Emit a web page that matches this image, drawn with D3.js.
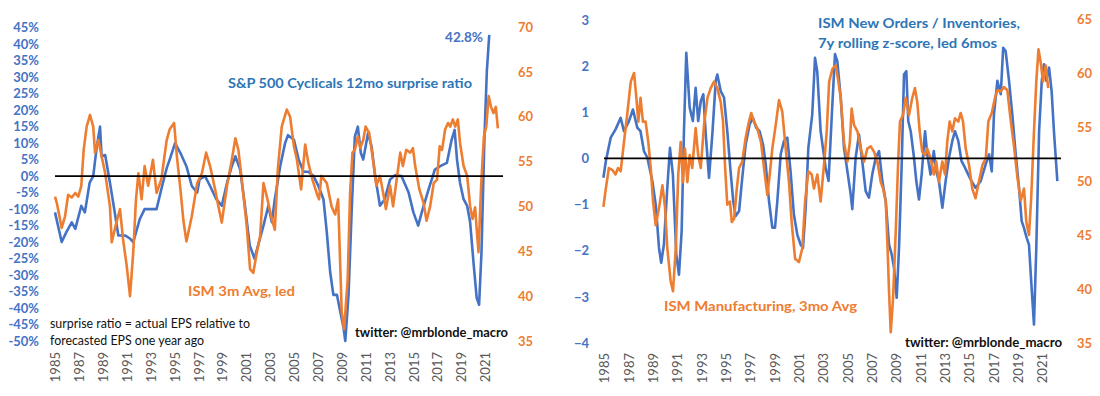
<!DOCTYPE html>
<html>
<head>
<meta charset="utf-8">
<script src="https://d3js.org/d3.v7.min.js"></script>
<style>
  html, body { margin: 0; padding: 0; background: #fff; }
  svg { display: block; font-family: Lato, "Open Sans", sans-serif; }
</style>
</head>
<body>
<svg id="chart" width="1100" height="396"></svg>
<script>
// ---------------- DATA ----------------
const yearTicks = d3.range(1985, 2022, 2);
const surpriseTicks = d3.range(-50, 46, 5);
const ismTicksLeft = d3.range(35, 71, 5);
const zTicks = d3.range(-4, 4, 1);
const ismTicksRight = d3.range(35, 66, 5);

// S&P 500 Cyclicals 12mo surprise ratio (%)
const spxSurprise = [[1985.0,-11],[1985.56,-20],[1985.95,-17],[1986.4,-14],[1986.7,-16],[1987.2,-9],[1987.5,-11],[1987.9,-2],[1988.2,0],[1988.5,9],[1988.77,15],[1988.9,6],[1989.2,6.4],[1989.6,-2],[1990.0,-11],[1990.3,-18],[1990.86,-18],[1991.3,-19],[1991.55,-20],[1992.1,-13],[1992.5,-10],[1992.9,-10],[1993.5,-10],[1993.9,-4],[1994.35,2.4],[1994.6,5],[1995.05,10],[1995.5,7],[1996.0,3],[1996.45,-3],[1996.9,-5],[1997.1,-1],[1997.56,0],[1997.98,-3],[1998.5,-7],[1998.96,-9],[1999.4,-2],[1999.8,3],[2000.1,6],[2000.5,2],[2000.9,-9],[2001.3,-21],[2001.7,-25],[2002.0,-21],[2002.45,-15],[2002.86,-9],[2003.15,-14],[2003.4,-7],[2003.85,3],[2004.26,10],[2004.5,12.4],[2005.0,11],[2005.4,5],[2005.8,1.3],[2006.2,1.3],[2006.64,0],[2007.05,-3],[2007.47,-7],[2007.75,-17],[2008.03,-29],[2008.3,-36],[2008.6,-36],[2008.87,-41],[2009.15,-46],[2009.3,-50],[2009.57,-36],[2009.85,-9],[2010.1,12],[2010.35,15],[2010.6,7],[2010.8,5],[2011.2,13],[2011.5,9],[2011.8,0],[2012.2,-9],[2012.6,-7],[2013.05,-1],[2013.47,0.3],[2014.0,0],[2014.6,-5],[2015.0,-11],[2015.4,-15],[2015.7,-11],[2016.27,-4],[2016.8,2],[2017.25,3],[2017.8,4],[2018.2,11],[2018.45,14],[2018.65,5],[2018.9,-2],[2019.2,-7],[2019.5,-9],[2019.75,-14],[2020.05,-27],[2020.3,-37],[2020.5,-39],[2020.7,-23],[2020.95,12],[2021.15,32],[2021.35,42.8]];

// ISM 3m Avg, led (left panel, right axis)
const ismLed = [[1985.0,51.1],[1985.15,50.4],[1985.56,47.6],[1985.84,48.9],[1986.1,51.3],[1986.4,51],[1986.7,51.5],[1986.95,51.1],[1987.2,52.3],[1987.4,56.3],[1987.65,58.9],[1987.93,60.2],[1988.2,58.9],[1988.35,56],[1988.63,57.4],[1988.9,55.6],[1989.2,53.7],[1989.6,50],[1989.75,46],[1990.1,48],[1990.44,49.7],[1990.7,46.3],[1991.0,43.4],[1991.28,40],[1991.55,44.9],[1991.78,50.8],[1991.98,53.7],[1992.25,50.8],[1992.5,54.5],[1992.8,52.3],[1993.2,55.2],[1993.5,51.5],[1993.9,53],[1994.35,57.4],[1994.6,58.6],[1994.97,59.3],[1995.2,55.6],[1995.5,51.9],[1995.75,48.4],[1996.0,46.1],[1996.45,48.9],[1996.9,52.6],[1997.3,53.7],[1997.65,56],[1997.98,54.5],[1998.4,51.9],[1998.68,50],[1998.96,48.2],[1999.4,52.3],[1999.8,55.2],[2000.1,57.6],[2000.35,56.3],[2000.6,53.4],[2001.05,47.8],[2001.33,43],[2001.6,42.6],[2001.9,44.9],[2002.17,46.7],[2002.45,52.6],[2002.73,51.1],[2003.15,48.6],[2003.4,47.4],[2003.65,54.1],[2003.98,58.9],[2004.4,60.8],[2004.68,60],[2005.0,56.7],[2005.25,55.2],[2005.6,51.9],[2005.94,56.9],[2006.2,54.9],[2006.55,53],[2006.9,51.5],[2007.1,50.8],[2007.3,53.4],[2007.75,52.6],[2008.15,50],[2008.45,49.1],[2008.7,50.8],[2009.0,38.2],[2009.2,36.3],[2009.5,41.9],[2009.7,51.5],[2009.9,56],[2010.1,56.3],[2010.35,57.8],[2010.55,56.5],[2010.8,57.4],[2011.0,58.9],[2011.3,58.2],[2011.65,54.9],[2011.9,52.3],[2012.2,53.4],[2012.47,51.5],[2012.7,49.7],[2013.05,52.3],[2013.3,50],[2013.6,53],[2013.9,56],[2014.12,54.5],[2014.4,56.3],[2014.74,56],[2014.96,56.5],[2015.15,54.5],[2015.5,51.9],[2015.85,50.4],[2016.1,48.4],[2016.4,50],[2016.7,52.6],[2016.98,53],[2017.2,56.7],[2017.4,56.3],[2017.66,58.6],[2017.9,59.3],[2018.08,58.9],[2018.3,59.7],[2018.5,58.9],[2018.72,59.7],[2018.9,57.1],[2019.2,54.5],[2019.5,53.4],[2019.75,50],[2019.95,48.6],[2020.17,49.9],[2020.3,47.4],[2020.45,44.9],[2020.67,52.3],[2020.9,57.8],[2021.1,58.9],[2021.3,62.3],[2021.5,61.1],[2021.7,60.4],[2021.9,61.1],[2022.07,58.7]];

// ISM New Orders / Inventories, 7y rolling z-score, led 6mos
const noInvZ = [[1984.95,-0.42],[1985.15,-0.06],[1985.55,0.45],[1985.95,0.63],[1986.37,0.88],[1986.64,0.59],[1987.05,0.81],[1987.38,1.06],[1987.73,0.67],[1988.0,0.59],[1988.28,0.16],[1988.56,0.02],[1988.97,-0.49],[1989.25,-1.0],[1989.52,-1.94],[1989.7,-2.26],[1989.92,-1.87],[1990.2,-0.64],[1990.42,0.23],[1990.66,-0.35],[1990.94,-2.08],[1991.16,-2.52],[1991.38,-1.58],[1991.57,0.59],[1991.76,2.29],[1992.04,1.1],[1992.3,0.81],[1992.53,1.53],[1992.74,0.81],[1992.95,1.24],[1993.16,1.39],[1993.36,0.52],[1993.63,-0.42],[1993.9,0.52],[1994.18,1.68],[1994.31,1.82],[1994.59,1.46],[1994.86,1.32],[1995.13,0.59],[1995.4,-0.28],[1995.62,-0.93],[1995.82,-1.25],[1996.1,-1.14],[1996.36,-0.42],[1996.64,0.3],[1996.97,0.74],[1997.24,0.88],[1997.5,0.67],[1997.78,0.59],[1998.07,0.3],[1998.29,-0.13],[1998.56,-0.93],[1998.83,-1.5],[1999.05,-1.5],[1999.24,-0.93],[1999.52,0.09],[1999.79,0.38],[2000.06,0.45],[2000.33,-0.28],[2000.6,-1.21],[2000.88,-1.65],[2001.16,-1.87],[2001.35,-1.94],[2001.57,-1.07],[2001.79,0.23],[2002.11,0.95],[2002.34,2.18],[2002.52,1.89],[2002.8,0.59],[2003.21,-0.2],[2003.45,-0.49],[2003.72,0.95],[2003.98,2.26],[2004.17,2.11],[2004.45,1.32],[2004.72,0.23],[2005.0,-0.28],[2005.27,-0.78],[2005.4,-1.1],[2005.68,0.02],[2005.95,0.52],[2006.22,-0.06],[2006.5,-0.71],[2006.77,-0.85],[2007.04,-0.35],[2007.33,0.02],[2007.6,0.16],[2007.87,-0.49],[2008.15,-0.93],[2008.42,-1.87],[2008.64,-2.08],[2008.83,-2.37],[2009.05,-3.02],[2009.24,-1.94],[2009.46,-0.13],[2009.65,1.82],[2009.84,1.89],[2010.0,0.81],[2010.2,0.59],[2010.47,0.02],[2010.66,-0.49],[2010.88,-0.89],[2011.1,-0.35],[2011.38,0.59],[2011.56,0.09],[2011.83,-0.35],[2012.1,0.16],[2012.3,-0.28],[2012.52,-0.49],[2012.8,-1.07],[2013.07,-0.49],[2013.35,0.02],[2013.62,0.38],[2013.84,0.59],[2014.11,0.38],[2014.38,-0.06],[2014.66,-0.2],[2014.93,-0.35],[2015.2,-0.49],[2015.53,-0.64],[2015.95,-0.49],[2016.36,-0.13],[2016.64,0.09],[2016.86,-0.28],[2017.04,0.95],[2017.32,1.68],[2017.6,1.39],[2017.8,2.4],[2018.0,2.33],[2018.28,1.68],[2018.55,0.95],[2018.83,0.09],[2019.1,-0.64],[2019.32,-1.36],[2019.5,-1.5],[2019.73,-1.72],[2019.92,-1.87],[2020.1,-2.66],[2020.33,-3.6],[2020.52,-1.94],[2020.75,0.59],[2020.97,1.68],[2021.15,2.04],[2021.34,1.68],[2021.57,1.97],[2021.78,1.46],[2021.97,0.59],[2022.25,-0.49]];

// ISM Manufacturing, 3mo Avg (right panel, right axis)
const ismMfg = [[1984.95,47.6],[1985.15,49.3],[1985.4,51.2],[1985.7,51],[1985.95,50.6],[1986.15,51.2],[1986.37,50.9],[1986.64,53.6],[1986.9,56.1],[1987.2,59.2],[1987.47,60],[1987.66,57.7],[1987.82,55.5],[1988.0,57.7],[1988.2,55.5],[1988.42,55.5],[1988.64,53.6],[1988.84,51.2],[1989.03,48.1],[1989.25,45.9],[1989.52,47.5],[1989.8,49.6],[1990.02,47.5],[1990.2,43.8],[1990.48,40.7],[1990.67,39.8],[1990.9,43.8],[1991.1,50.6],[1991.3,53.6],[1991.49,49.9],[1991.65,53],[1991.85,49.9],[1992.04,52.4],[1992.25,51.2],[1992.53,54.9],[1992.74,52.4],[1992.95,51.2],[1993.22,55.2],[1993.5,57.7],[1993.77,58.6],[1994.04,59.2],[1994.31,58.6],[1994.59,57.3],[1994.78,55.5],[1994.94,51.5],[1995.13,47.8],[1995.35,48.1],[1995.5,46.2],[1995.69,46.5],[1995.91,49.3],[1996.1,51.2],[1996.36,51.8],[1996.64,54],[1996.91,55.5],[1997.1,56.3],[1997.32,55.5],[1997.59,54.9],[1997.9,53.6],[1998.15,51.2],[1998.42,48.7],[1998.62,50.6],[1998.83,53],[1999.11,55.2],[1999.38,57.5],[1999.65,56.4],[1999.93,53],[2000.2,49.9],[2000.42,46.2],[2000.7,42.8],[2001.02,42.5],[2001.3,43.8],[2001.52,48.1],[2001.79,50.9],[2002.07,50.6],[2002.25,49.3],[2002.53,50.6],[2002.8,48.1],[2003.1,51.8],[2003.3,54.6],[2003.5,59.2],[2003.78,60.4],[2004.04,60.7],[2004.26,59.2],[2004.45,57.7],[2004.72,53.6],[2005.0,51.8],[2005.2,53.6],[2005.35,56.7],[2005.54,55.2],[2005.82,54.6],[2006.1,53],[2006.37,51.8],[2006.64,53],[2006.92,53.2],[2007.19,52.7],[2007.46,51.8],[2007.74,49.9],[2007.93,49.3],[2008.15,48.1],[2008.28,44.4],[2008.42,39.8],[2008.56,36],[2008.75,39.1],[2008.97,45.3],[2009.16,51.5],[2009.32,55.5],[2009.57,56.1],[2009.79,57.7],[2010.06,56.1],[2010.33,57.7],[2010.55,58.6],[2010.74,57.3],[2010.94,54.6],[2011.15,52.7],[2011.38,52.4],[2011.56,53],[2011.84,52.1],[2012.1,50.6],[2012.3,51.8],[2012.52,49.9],[2012.8,51.8],[2013.02,50.6],[2013.2,53.6],[2013.4,55.5],[2013.62,54.6],[2013.84,55.8],[2014.11,55.5],[2014.31,56.3],[2014.5,55.5],[2014.72,53],[2014.99,51.5],[2015.26,49.3],[2015.53,48.4],[2015.8,49.9],[2016.1,51.5],[2016.37,52.1],[2016.58,55.5],[2016.86,56.3],[2017.13,57.7],[2017.32,58.4],[2017.6,58.3],[2017.87,58.7],[2018.14,58.4],[2018.42,55.6],[2018.69,53.2],[2018.96,50.4],[2019.24,48.2],[2019.51,49.3],[2019.7,46.2],[2019.92,45],[2020.1,48.4],[2020.33,54.6],[2020.52,59.2],[2020.7,62.2],[2020.88,61],[2021.07,59.2],[2021.3,60.7],[2021.5,58.6]];

// ---------------- STYLE ----------------
const BLUE = "#4472C4", ORANGE = "#ED7D31", TXTBLUE = "#2E75B6", GRAY = "#595959";

const svg = d3.select("#chart");

function panel(cfg) {
  const g = svg.append("g");
  const x = d3.scaleLinear().domain(cfg.xDomain).range(cfg.xRange);
  const yL = d3.scaleLinear().domain(cfg.yLDomain).range(cfg.yLRange);
  const yR = d3.scaleLinear().domain(cfg.yRDomain).range(cfg.yRRange);

  const ax = g.append("g").attr("transform", `translate(${cfg.leftAxisX},0)`)
    .call(d3.axisLeft(yL).tickValues(cfg.yLTicks).tickSize(0).tickPadding(0).tickFormat(cfg.yLFormat));
  ax.select(".domain").remove();
  ax.selectAll("text").attr("fill", BLUE).style("font-size", "13px").style("font-weight", "700").style("font-family", "Lato");

  const ar = g.append("g").attr("transform", `translate(${cfg.rightAxisX},0)`)
    .call(d3.axisRight(yR).tickValues(cfg.yRTicks).tickSize(0).tickPadding(0));
  ar.select(".domain").remove();
  ar.selectAll("text").attr("fill", ORANGE).style("font-size", "13px").style("font-weight", "700").style("font-family", "Lato");

  const axb = g.append("g").attr("transform", `translate(0,${cfg.xAxisY})`)
    .call(d3.axisBottom(x).tickValues(yearTicks).tickSize(0).tickFormat(d3.format("d")));
  axb.select(".domain").remove();
  axb.selectAll("text")
    .attr("transform", "rotate(-90)")
    .attr("x", -4).attr("y", 0).attr("dy", "0.36em")
    .attr("text-anchor", "end")
    .attr("fill", GRAY).style("font-size", "13px").style("font-family", "Lato");

  const lineL = d3.line().x(d => x(d[0])).y(d => yL(d[1]));
  const lineR = d3.line().x(d => x(d[0])).y(d => yR(d[1]));

  g.append("path").datum(cfg.blue).attr("d", lineL)
    .attr("fill", "none").attr("stroke", BLUE).attr("stroke-width", 2.6).attr("stroke-linejoin", "round");
  g.append("path").datum(cfg.orange).attr("d", lineR)
    .attr("fill", "none").attr("stroke", ORANGE).attr("stroke-width", 2.6).attr("stroke-linejoin", "round");

  g.append("line")
    .attr("x1", x(cfg.xDomain[0])).attr("x2", x(cfg.zeroEnd))
    .attr("y1", yL(0)).attr("y2", yL(0))
    .attr("stroke", "#000").attr("stroke-width", 1.8);

  return { g, x, yL, yR };
}

function label(g, txt, x, y, opts) {
  const t = g.append("text").attr("x", x).attr("y", y).text(txt)
    .attr("fill", opts.color).style("font-size", opts.size + "px")
    .style("font-weight", opts.weight || 700).style("font-family", "Lato");
  if (opts.width) t.attr("textLength", opts.width).attr("lengthAdjust", "spacingAndGlyphs");
  return t;
}

// ---------------- LEFT PANEL ----------------
const L = panel({
  xDomain: [1985, 2022.5], xRange: [55, 503], zeroEnd: 2022.5,
  yLDomain: [-50, 45], yLRange: [341, 27.7],
  yRDomain: [35, 70], yRRange: [341, 27],
  yLTicks: surpriseTicks, yLFormat: d => d + "%",
  yRTicks: ismTicksLeft,
  leftAxisX: 39, rightAxisX: 518, xAxisY: 348,
  blue: spxSurprise, orange: ismLed
});
label(L.g, "42.8%", 445, 42, { color: BLUE, size: 14, width: 38 });
label(L.g, "S&P 500 Cyclicals 12mo surprise ratio", 228, 88, { color: TXTBLUE, size: 14, width: 244 });
label(L.g, "ISM 3m Avg, led", 188, 296, { color: ORANGE, size: 14, width: 107 });
label(L.g, "surprise ratio = actual EPS relative to", 50, 327.5, { color: "#111", size: 13, weight: 400, width: 200 });
label(L.g, "forecasted EPS one year ago", 50, 344.5, { color: "#111", size: 13, weight: 400, width: 154 });
label(L.g, "twitter: @mrblonde_macro", 355, 336.5, { color: "#111", size: 13, width: 153 });

// ---------------- RIGHT PANEL ----------------
const R = panel({
  xDomain: [1985, 2022.55], xRange: [604, 1061], zeroEnd: 2022.55,
  yLDomain: [-4, 3], yLRange: [343, 20],
  yRDomain: [35, 65], yRRange: [343, 19],
  yLTicks: zTicks, yLFormat: d3.format("d"),
  yRTicks: ismTicksRight,
  leftAxisX: 589, rightAxisX: 1077, xAxisY: 349,
  blue: noInvZ, orange: ismMfg
});
label(R.g, "ISM New Orders / Inventories,", 818, 28, { color: TXTBLUE, size: 14, width: 202 });
label(R.g, "7y rolling z-score, led 6mos", 818, 48, { color: TXTBLUE, size: 14, width: 179 });
label(R.g, "ISM Manufacturing, 3mo Avg", 664, 311, { color: ORANGE, size: 14, width: 193 });
label(R.g, "twitter: @mrblonde_macro", 905, 346.5, { color: "#111", size: 13, width: 157 });
</script>
</body>
</html>
